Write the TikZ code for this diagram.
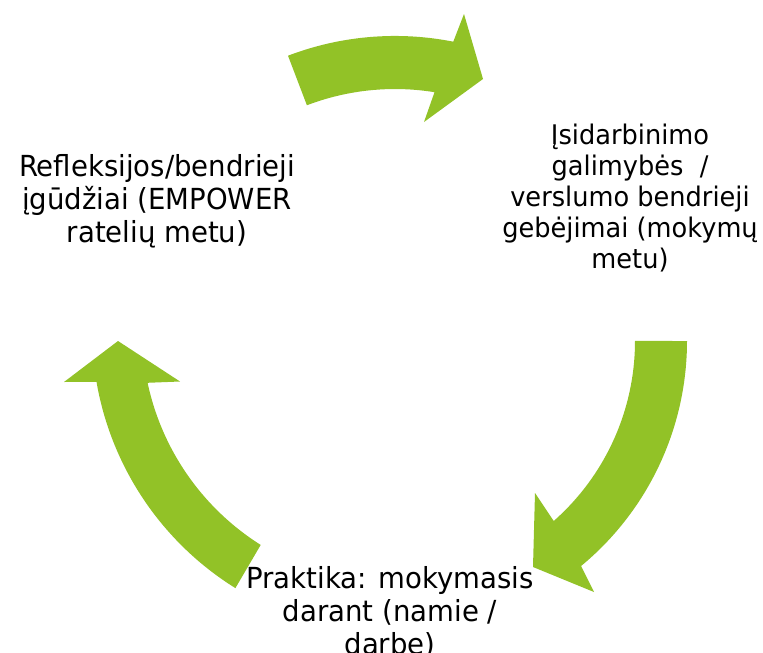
\documentclass[tikz,border=0pt]{standalone}
\usepackage{fontspec}
\setmainfont[FakeStretch=0.95]{DejaVu Sans}
\definecolor{cyclegreen}{RGB}{146,194,39}

\begin{document}
\begin{tikzpicture}[x=1pt,y=-1pt,
	cycle arrow/.style={fill=cyclegreen},
	stage node/.style={align=center,inner sep=0pt,anchor=north,font=\fontsize{29}{33}\selectfont}]
	
	\useasboundingbox (0,0) rectangle (763,653);
	
	\node[stage node] (reflect) at (157,154) {Refleksijos/bendrieji\\įgūdžiai (EMPOWER\\ratelių metu)};
	\node[stage node,font=\fontsize{27}{31}\selectfont] (employ) at (630,123.5) {Įsidarbinimo\\galimybės\ \ /\\verslumo bendrieji\\gebėjimai (mokymų\\metu)};
	\node[stage node] (practice) at (390,566) {Praktika: mokymasis\\darant (namie /\\darbe)};
	
	% top arrow
	\fill[cycle arrow] (288,55.7) arc[start angle=-110.9,end angle=-78.8,radius=300]
	-- (464,14) -- (483,79) -- (424,122) -- (434.5,92.2)
	arc[start angle=-80.8,end angle=-110.9,radius=247] -- cycle;
	% right arrow
	\fill[cycle arrow] (687,341) arc[start angle=0,end angle=50.4,radius=292]
	-- (594,592) -- (533,567) -- (535,493) -- (553.7,521)
	arc[start angle=48.6,end angle=0,radius=240] -- cycle;
	% left arrow
	\fill[cycle arrow] (235.4,588.1) arc[start angle=121.9,end angle=170.2,radius=304]
	-- (64,382) -- (118,341) -- (180,381.5) -- (147.6,382.8)
	arc[start angle=168,end angle=122.2,radius=254] -- cycle;
\end{tikzpicture}
\end{document}
